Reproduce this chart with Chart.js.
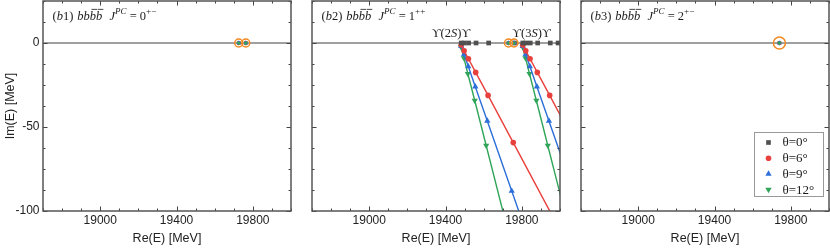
<!DOCTYPE html>
<html>
<head>
<meta charset="utf-8">
<script src="https://cdn.jsdelivr.net/npm/chart.js@4.4.1/dist/chart.umd.min.js"></script>
<style>
body{margin:0;background:#fff;width:830px;height:249px;overflow:hidden;position:relative}
canvas{position:absolute;top:0}
</style>
</head>
<body>
<canvas id="b1" width="293" height="249" style="left:0px"></canvas>
<canvas id="b2" width="293" height="249" style="left:269px"></canvas>
<canvas id="b3" width="293" height="249" style="left:538px"></canvas>
<script>
// axes
const xTicks=[19000,19400,19800];
const yTicks=[0,-50,-100];
const thetaLabels=['θ=0°','θ=6°','θ=9°','θ=12°'];

// (b1) J^PC=0+-
const b1BoundRe=[19726,19763];

// (b2) J^PC=1++
const b2BoundRe=[19730,19759];
const b2Theta0Re=[19482,19498,19521,19560,19626,19761,19990,19805,19821,19844,19883,19949];
const b2Theta6LowRe=[19482,19497.5,19520,19558,19623,19755,19965];
const b2Theta6LowIm=[-1.2,-4.6,-9.4,-17.5,-31.2,-59.3,-104];
const b2Theta6HighRe=[19805,19820.5,19843,19881,19946,20078];
const b2Theta6HighIm=[-1.2,-4.6,-9.4,-17.5,-31.2,-59.3];
const b2Theta9LowRe=[19482,19497,19519,19556,19619,19747,19952];
const b2Theta9LowIm=[-1.9,-6.8,-13.9,-26.0,-46.4,-88.1,-154.5];
const b2Theta9HighRe=[19805,19820,19842,19879,19942,20070];
const b2Theta9HighIm=[-1.9,-6.8,-13.9,-26.0,-46.4,-88.1];
const b2Theta12LowRe=[19481.5,19496,19517,19553,19613,19736];
const b2Theta12LowIm=[-2.4,-8.9,-18.3,-34.2,-61.0,-115.9];
const b2Theta12HighRe=[19804.5,19819,19840,19876,19936,20059];
const b2Theta12HighIm=[-2.4,-8.9,-18.3,-34.2,-61.0,-115.9];
const b2ThresholdNames=['2S','3S'];

// (b3) J^PC=2+-
const b3BoundRe=[19740];

const SERIF='"Liberation Serif","DejaVu Serif",serif';
const SANS='"Liberation Sans",Arial,sans-serif';
const STY=[
  {c:'#505050',ps:'rect',r:3.3,rot:0},
  {c:'#e8403c',ps:'circle',r:2.8,rot:0},
  {c:'#2c6fd8',ps:'triangle',r:3.6,rot:0},
  {c:'#30a55a',ps:'triangle',r:3.6,rot:180}
];
const RING='#f5891f';

const pts=(xs,ys)=>xs.map((x,i)=>({x,y:ys?ys[i]:0}));

function series(k,xs,ys,line,scale){
  const s=STY[k],r=s.r*(scale||1);
  return {data:pts(xs,ys),showLine:!!line,borderColor:s.c,backgroundColor:s.c,borderWidth:1.4,
    pointStyle:s.ps,pointRadius:r,pointHoverRadius:r,pointRotation:s.rot,pointBorderWidth:0};
}
function bound(re,ringR){
  return [0,1,2,3].map(k=>series(k,re,null,false,0.75)).concat([{
    data:pts(re),showLine:false,borderColor:RING,backgroundColor:'rgba(0,0,0,0)',
    pointStyle:'circle',pointRadius:ringR,pointHoverRadius:ringR,pointBorderWidth:1.5}]);
}

function marker(ctx,k,x,y){
  const s=STY[k];ctx.fillStyle=s.c;ctx.beginPath();
  if(s.ps==='rect'){const h=s.r*Math.SQRT1_2;ctx.rect(x-h,y-h,2*h,2*h);}
  else if(s.ps==='circle'){ctx.arc(x,y,s.r,0,Math.PI*2);}
  else{const d=s.rot?-1:1,r=s.r;ctx.moveTo(x,y-d*r);ctx.lineTo(x+r*0.87,y+d*r*0.5);ctx.lineTo(x-r*0.87,y+d*r*0.5);ctx.closePath();}
  ctx.fill();
}

function rich(ctx,parts,x,y,center){
  let w=0;parts.forEach(p=>{ctx.font=p[1];w+=ctx.measureText(p[0]).width;});
  let cx=center?x-w/2:x;
  parts.forEach(p=>{ctx.font=p[1];ctx.fillText(p[0],cx,y+(p[2]||0));cx+=ctx.measureText(p[0]).width;});
  return cx;
}

const frame={
  id:'frame',
  beforeDatasetsDraw(chart){
    const {ctx,chartArea:a,scales:{y}}=chart;const y0=y.getPixelForValue(0);
    ctx.save();ctx.strokeStyle='#a0a0a0';ctx.lineWidth=2;
    ctx.beginPath();ctx.moveTo(a.left,y0);ctx.lineTo(a.right,y0);ctx.stroke();ctx.restore();
  },
  afterDatasetsDraw(chart){
    const {ctx,chartArea:a,scales:{x,y}}=chart;
    ctx.save();ctx.strokeStyle='#444';ctx.lineWidth=1;ctx.beginPath();
    for(let v=18700;v<=20000;v+=100){
      const p=Math.round(x.getPixelForValue(v))+0.5,l=xTicks.includes(v)?4.5:2.5;
      ctx.moveTo(p,a.bottom);ctx.lineTo(p,a.bottom-l);ctx.moveTo(p,a.top);ctx.lineTo(p,a.top+l);
    }
    for(let v=-100;v<=25;v+=12.5){
      const p=Math.round(y.getPixelForValue(v))+0.5,l=yTicks.includes(v)?4.5:2.5;
      ctx.moveTo(a.left,p);ctx.lineTo(a.left+l,p);ctx.moveTo(a.right,p);ctx.lineTo(a.right-l,p);
    }
    ctx.stroke();
    ctx.strokeStyle='#555';ctx.lineWidth=1.5;
    ctx.strokeRect(a.left,a.top,a.right-a.left,a.bottom-a.top);
    ctx.restore();
  }
};

const annot={
  id:'annot',
  afterDraw(chart,args,o){
    if(!o||!o.n)return;
    const {ctx,chartArea:a,scales:{x,y}}=chart;
    const it='italic 12.5px '+SERIF,up='12.5px '+SERIF,sit='italic 9px '+SERIF,sup='9px '+SERIF;
    ctx.save();ctx.fillStyle='#1a1a1a';ctx.textBaseline='alphabetic';
    const bx=a.left+9.5,by=a.top+18.5;
    let cx=rich(ctx,[['(',up],['b',it],[o.n+')',up]],bx,by);
    cx+=4;ctx.font=it;
    for(let i=0;i<4;i++){
      const w=ctx.measureText('b').width;ctx.fillText('b',cx,by);
      if(i>1)ctx.fillRect(cx+1.6,by-10.6,w-0.6,0.8);
      cx+=w;
    }
    rich(ctx,[['J',it],['PC',sit,-5.5],[' = '+o.j,up],[o.p,sup,-5.5]],a.left+66.5,by);
    if(o.thr){
      ctx.textBaseline='middle';
      const at=[19428,19850];
      b2ThresholdNames.forEach((nm,i)=>{
        rich(ctx,[['ϒ(',up],[nm[0],up],[nm[1],it],[')ϒ',up]],x.getPixelForValue(at[i]),y.getPixelForValue(5.6),true);
      });
    }
    if(o.legend){
      const bw=69,bh=64,L=a.right-6-bw,T=a.bottom-15-bh;
      ctx.fillStyle='#fff';ctx.fillRect(L,T,bw,bh);
      ctx.strokeStyle='#999';ctx.lineWidth=1;ctx.strokeRect(L+0.5,T+0.5,bw,bh);
      ctx.textBaseline='middle';ctx.font='13px '+SERIF;
      thetaLabels.forEach((t,k)=>{
        const ry=T+10.5+k*15.7;
        marker(ctx,k,L+14.5,ry);
        ctx.fillStyle='#1a1a1a';ctx.fillText(t,L+28.5,ry+0.5);
      });
    }
    ctx.restore();
  }
};
Chart.register(frame,annot);

function makePanel(id,datasets,showY,ann){
  return new Chart(document.getElementById(id),{
    type:'scatter',
    data:{datasets:datasets.reverse()},
    options:{
      responsive:false,animation:false,
      layout:{autoPadding:false,padding:{top:1,right:2,left:0,bottom:0}},
      plugins:{legend:{display:false},tooltip:{enabled:false},annot:ann},
      scales:{
        x:{type:'linear',min:18700,max:20000,
          afterBuildTicks:s=>{s.ticks=xTicks.map(v=>({value:v}));},
          afterFit:s=>{s.height=38;s.paddingLeft=0;s.paddingRight=0;},
          grid:{display:false,drawTicks:false},border:{display:false},
          ticks:{color:'#222',font:{family:SANS,size:12},padding:2,maxRotation:0,autoSkip:false,callback:v=>String(v)},
          title:{display:true,text:'Re(E) [MeV]',color:'#222',font:{family:SANS,size:12.5},padding:{top:0,bottom:3}}},
        y:{type:'linear',min:-100,max:25,
          afterBuildTicks:s=>{s.ticks=yTicks.map(v=>({value:v}));},
          afterFit:s=>{s.width=43;s.paddingTop=0;s.paddingBottom=0;},
          grid:{display:false,drawTicks:false},border:{display:false},
          ticks:{display:showY,color:'#222',font:{family:SANS,size:12},padding:3.5,callback:v=>String(v)},
          title:{display:showY,text:'Im(E) [MeV]',color:'#222',font:{family:SANS,size:12.5},padding:{top:3,bottom:0}}}
      }
    }
  });
}

// bottom-to-top drawing order
makePanel('b1',bound(b1BoundRe,4),true,{n:'1',j:'0',p:'+−'});

makePanel('b2',[
  series(3,b2Theta12LowRe,b2Theta12LowIm,true),
  series(3,b2Theta12HighRe,b2Theta12HighIm,true),
  series(2,b2Theta9LowRe,b2Theta9LowIm,true),
  series(2,b2Theta9HighRe,b2Theta9HighIm,true),
  series(1,b2Theta6LowRe,b2Theta6LowIm,true),
  series(1,b2Theta6HighRe,b2Theta6HighIm,true),
  series(0,b2Theta0Re,null,false)
].concat(bound(b2BoundRe,4)),false,{n:'2',j:'1',p:'++',thr:true});

makePanel('b3',bound(b3BoundRe,6),false,{n:'3',j:'2',p:'+−',legend:true});
</script>
</body>
</html>
